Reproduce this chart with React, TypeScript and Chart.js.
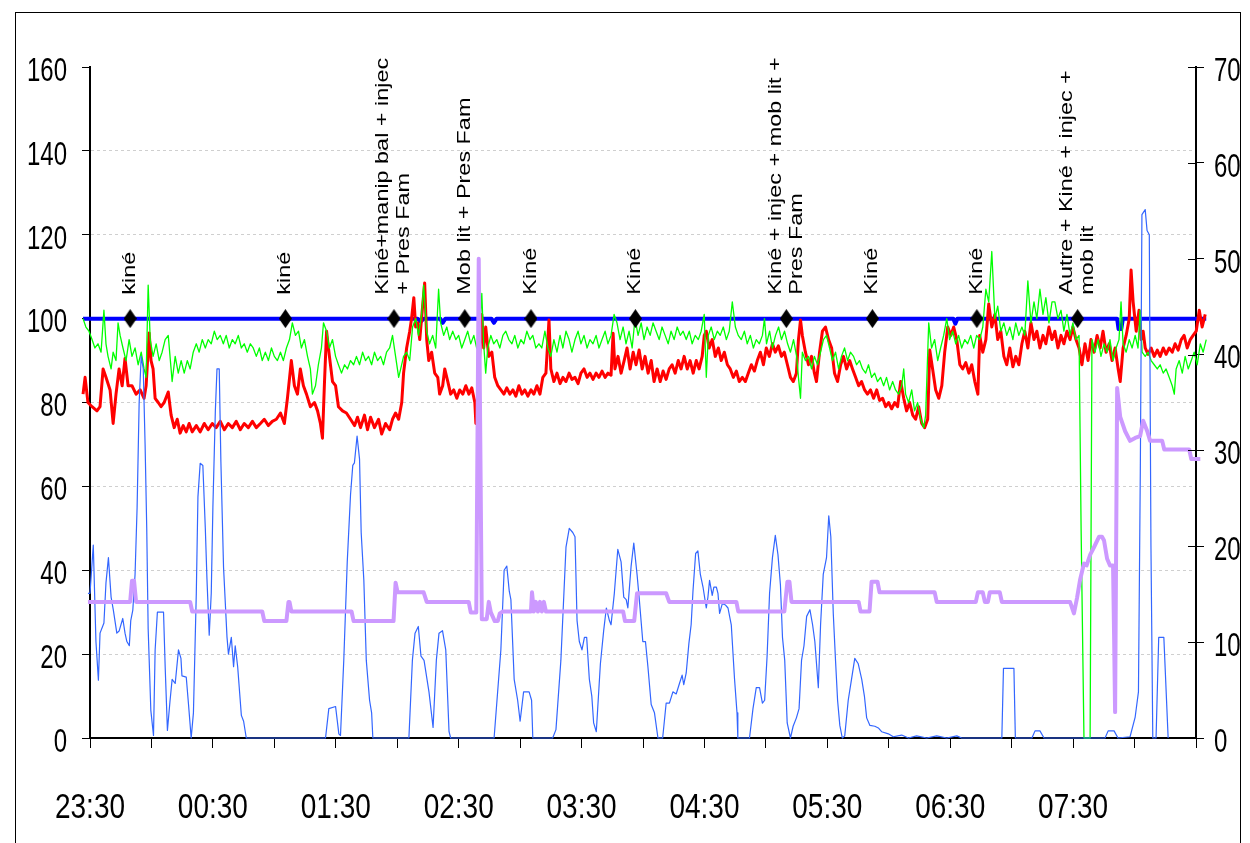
import React, { useEffect, useRef } from 'react';
import { Chart, registerables } from 'chart.js';

Chart.register(...registerables);

const FONT = '"Liberation Sans", Arial, sans-serif';

// time axis: minutes since 23:30
const X_LABEL_MIN = [0, 60, 120, 180, 240, 300, 360, 420, 480];
const X_LABELS = ['23:30', '00:30', '01:30', '02:30', '03:30', '04:30', '05:30', '06:30', '07:30'];
const LEFT_TICKS = [0, 20, 40, 60, 80, 100, 120, 140, 160];
const RIGHT_TICKS = [0, 10, 20, 30, 40, 50, 60, 70];

// [minute, value]
const RED: number[][] = [[-3.4,82],[-2.4,86],[-1,80],[1,79],[3.4,78],[4.9,79],[6.4,88],[7.8,86],[9.8,83],[11.3,75],[12.7,82],[14.2,88],[15.7,84],[17.1,90.5],[18.6,84],[20.5,84],[22.5,82],[24.5,83],[26.4,81],[27.4,84],[28.9,96.6],[29.8,90],[30.8,88],[31.8,81],[33.3,80],[34.7,79],[36.2,80],[38.2,82.5],[39.6,77],[41.1,74],[42.6,76],[44,72.7],[45.5,74.5],[47,73],[48.4,75],[49.9,73],[51.9,74.5],[53.8,73],[55.8,75],[57.7,73.5],[59.7,75],[61.6,74],[63.6,75.5],[65.6,73.5],[67.5,75],[69.5,74],[71.4,75.5],[73.4,73.5],[75.3,75],[77.3,74],[79.3,75.5],[81.2,74],[83.2,75],[85.1,76],[87.1,74.5],[89,75.5],[91,76],[93,77.5],[94.9,75],[96.4,81],[98.3,90],[99.8,84],[101.3,82],[102.7,88],[104.2,84],[105.7,82],[107.6,79],[109.6,80],[111.1,78],[112.5,75],[113.5,71.5],[114.5,85],[115.5,97],[116.9,91],[118.4,85],[119.9,84],[121.3,79],[123.3,78],[125.2,77.5],[127.2,76],[129.2,74.5],[130.6,76.5],[132.1,74],[134,77],[135.5,73.5],[137,76.5],[138.9,74],[140.9,76],[142.4,72.5],[144.3,75],[146.3,73.5],[147.7,76],[149.2,77.5],[150.7,76],[152.2,80],[153.1,87],[154.6,93],[156.1,97],[157,100],[158.1,105],[159,98],[160,99],[161,95],[162.4,103],[163.4,108.5],[164.4,95],[165.4,90],[166.8,92],[168.3,87],[169.8,86],[170.7,82],[172.2,84],[173.2,88],[174.7,85],[176.1,82],[177.6,83],[179.1,81],[180.5,83],[182,82],[183.5,84],[185,82],[186.4,83.5],[187.9,80],[188.4,75],[189.3,82],[191.3,101],[192.2,93],[193.2,98],[194.7,91],[196.2,92],[197.6,86],[199.1,84],[200.6,83],[202.1,82],[203.5,83.5],[205,82],[206.5,83],[207.9,81.5],[209.4,84],[210.9,82],[212.3,83],[213.8,81.5],[215.3,83],[216.7,82],[218.2,84],[219.7,82],[221.1,86],[222.6,87],[224.1,99.7],[225,88],[226.5,85],[228,87],[229.5,84.5],[230.9,86],[232.4,85],[233.9,87],[235.3,85.5],[236.8,86],[238.3,84.5],[239.7,87],[241.2,88],[242.7,86],[244.1,87],[245.6,85.5],[247.1,87],[248.5,86],[250,87.5],[251.5,86],[252.9,87],[254.4,86.5],[255.4,96.5],[256.3,88],[257.8,91],[259.3,87],[260.8,90],[262.2,93],[263.7,88],[265.2,92],[266.6,89],[268.1,92.5],[269.6,88],[271,91],[272.5,87],[274,90],[275.4,85],[276.9,88],[278.4,85],[279.8,87.5],[281.3,85.5],[282.8,88],[284.2,89],[285.7,87],[287.2,90],[288.6,88],[290.1,91],[291.6,88],[293,90],[294.5,87],[296,90],[297.4,88],[298.9,91],[299.9,96],[300.9,97],[302.3,93],[303.8,95],[305.3,91],[306.8,93],[308.2,90],[309.7,92],[311.2,89],[312.6,88],[314.1,86],[315.6,87.5],[317,85],[318.5,86],[320,85],[321.4,87],[322.9,89],[324.4,87.5],[325.8,90],[327.3,92],[328.8,89],[330.2,93],[331.7,91],[333.2,94],[334.6,92],[336.1,93.5],[337.6,91],[339,92],[340.5,89],[342,86],[343.4,85],[344.9,87],[345.9,95],[346.9,99.7],[347.8,96],[349.3,92],[350.8,89],[352.3,91],[353.7,87],[354.7,85],[356.2,92],[357.6,97],[359.1,98],[360.6,95],[362.1,93],[363.5,87],[365,85],[366.5,89],[367.9,91],[369.4,88],[370.9,90],[372.3,88],[373.8,86],[375.3,84],[376.7,85],[378.2,83],[379.6,82],[381.1,83],[382.6,81],[384.1,83],[385.5,80.5],[387,81],[388.5,79],[389.9,80],[391.4,78.5],[392.9,80],[394.3,79],[395.8,85],[397.3,81],[398.7,78],[400.2,80],[401.7,77],[403.1,76],[404.6,79],[406.1,75],[407.5,74],[409,76],[410,92.5],[411.4,88],[412.9,83],[414.4,81],[415.9,84],[417.3,92],[418.8,98],[420.3,96],[421.7,98],[423.2,95],[424.7,89],[426.1,88],[427.6,89.5],[429.1,87],[430.5,89],[432,85],[433.5,82],[434.4,96],[435.9,92],[437.4,95],[438.8,103.5],[440.3,98],[441.8,101],[443.2,95],[444.7,97],[446.2,91],[447.6,89],[449.1,93],[450.6,88.5],[452,91],[453.5,89],[455,94],[456.4,97],[457.9,93],[459.4,99],[460.9,95],[462.3,97],[463.8,93],[465.3,96],[466.7,94],[468.2,98],[469.7,95],[471.1,97],[472.6,93],[474.1,96],[475.5,94],[477,97],[478.5,95],[479.9,98],[481.4,95],[482.9,93],[484.3,89],[485.8,94],[487.3,90],[488.7,95],[490.2,92],[491.7,96],[493.2,93],[494.6,97],[496.1,92],[497.6,94],[499,90],[500.5,93],[502,88],[503,85],[504.4,93],[505.9,96],[507.4,100],[508.3,111.6],[509.3,104],[510.8,97],[512.2,102],[513.2,95],[514.2,97],[515.2,93],[516.6,91.5],[518.1,93],[519.6,91],[521.1,92.5],[522.5,91],[524,93],[525.4,91.5],[526.9,93],[528.4,92],[529.8,94],[531.3,92.5],[532.8,95],[534.2,96],[535.7,93],[537.2,95],[538.6,96],[540.1,97],[541.6,102],[543,98],[544.5,101]];

const GREEN: number[][] = [[-3.4,100],[-2,98],[-0.5,97],[1,95],[2.4,93],[3.9,94],[5.4,92],[6.8,102],[7.8,94],[8.8,91],[10.3,88],[11.3,92],[12.7,90],[13.7,99],[14.7,96],[16.1,93],[17.6,90],[19.1,95],[20.5,91],[22,93],[23.5,89],[25,92],[26.4,88],[27.4,86],[28.4,108],[29.4,95],[30.8,91],[32.3,94],[33.8,90],[35.2,92],[36.7,95],[38.2,96],[39.6,88],[40.1,85],[41.6,91],[43.1,87],[44.5,90],[46,87],[47.5,90],[48.9,88],[50.4,92],[51.9,94],[53.3,92],[54.8,95],[56.3,93],[57.7,95],[59.2,94],[60.7,97],[62.1,95],[63.6,96],[65.1,94],[66.5,96],[68,93],[69.5,95],[70.9,94],[72.4,96],[73.9,93],[75.3,94],[76.8,92],[78.3,94],[79.7,93],[81.2,91],[82.7,93],[84.1,90],[85.6,92],[87.1,90],[88.6,93],[90,91],[91.5,90],[93,92],[94.4,90],[95.9,93],[97.4,95],[98.8,99],[100.3,96],[101.8,97],[103.2,93],[104.7,95],[106.2,91],[107.6,88],[108.6,82],[110.1,84],[111.5,89],[113,93],[114,99],[115.5,97],[116.9,93],[118.4,95],[119.9,91],[121.3,89],[122.8,87],[124.3,89],[125.7,88],[127.2,90],[128.7,89],[130.1,91],[131.6,89],[133.1,92],[134.5,90],[136,91],[137.5,89],[138.9,92],[140.4,90],[141.9,91],[143.3,89],[144.8,92],[146.3,93],[147.7,96],[149.2,91],[150.7,86],[151.7,88],[153.1,91],[154.6,92],[156.1,90],[157.5,98],[159,100],[160.4,96],[161.9,101],[162.9,108],[164.4,97],[165.8,94],[167.3,96],[168.8,93],[170.2,107],[171.2,99],[172.7,96],[174.2,98],[175.6,95],[177.1,97],[178.6,95],[180,96],[181.5,93],[183,95],[184.4,97],[185.9,94],[187.4,96],[188.8,93],[190.3,97],[191.3,106],[192.2,94],[193.2,87],[194.2,93],[195.7,96],[197.1,94],[198.6,95],[200.1,93],[201.6,96],[203,97],[204.5,95],[206,94],[207.4,96],[208.9,93],[210.4,95],[211.8,94],[213.3,97],[214.8,95],[216.2,96],[217.7,93],[219.2,94],[220.6,93],[222.1,97],[223.6,93],[225,91],[226.5,95],[228,92],[229.5,96],[230.9,93],[232.4,97],[233.9,95],[235.3,92],[236.8,95],[238.3,97],[239.7,94],[241.2,96],[242.7,93],[244.1,95],[245.6,94],[247.1,96],[248.5,93],[250,95],[251.5,97],[252.9,94],[254.4,96],[255.9,101],[257.3,99],[258.8,95],[260.3,98],[261.7,94],[263.2,97],[264.7,93],[266.1,100],[267.6,96],[269.1,99],[270.5,95],[272,98],[273.5,96],[274.9,99],[276.4,97],[277.9,95],[279.3,98],[280.8,96],[282.3,94],[283.7,97],[285.2,95],[286.7,98],[288.2,96],[289.6,97],[291.1,95],[292.6,97],[294,94],[295.5,96],[297,95],[298.4,97],[299.9,101],[300.9,86],[301.9,96],[303.3,98],[304.8,95],[306.3,97],[307.7,96],[309.2,98],[310.7,95],[312.1,97],[313.6,104],[315.1,98],[316.5,96],[318,95],[319.5,97],[320.9,94],[322.4,96],[323.9,93],[325.3,95],[326.8,94],[328.3,96],[329.3,100],[330.3,94],[331.8,97],[333.2,93],[334.7,96],[336.2,98],[337.6,95],[339.1,97],[340.6,94],[342,92],[343.5,95],[345,91],[345.9,86],[346.9,81],[347.8,92],[349.3,90],[350.8,91],[352.3,88],[353.7,91],[355.2,89],[356.7,92],[358.1,95],[359.6,96],[361.1,93],[362.5,90],[364,92],[365.5,88],[366.9,91],[368.4,93],[369.9,90],[371.3,92],[372.8,91],[374.3,89],[375.7,90],[377.2,88],[378.7,87],[380.1,89],[381.6,86],[383.1,87],[384.5,85],[386,86],[387.5,84],[388.9,86],[390.4,83],[391.9,85],[393.3,83],[394.8,82],[396.3,84],[397.3,88],[398.2,82],[399.7,80],[401.2,83],[402.6,78],[404.1,80],[405.6,76],[407.1,74],[408,77],[409.5,99],[410.9,93],[412.4,95],[413.9,90],[415.3,93],[416.8,96],[418.3,100],[419.7,95],[421.2,97],[422.7,94],[424.1,96],[425.6,93],[427.1,95],[428.5,94],[430,96],[431.5,93],[432.9,96],[434.4,95],[435.9,98],[437.4,107],[438.8,104],[440.3,116],[441.8,100],[443.2,103],[444.7,97],[446.2,99],[447.6,96],[449.1,98],[450.6,95],[452,99],[453.5,96],[455,98],[456.4,96],[457.9,109],[459.4,99],[460.9,104],[462.3,100],[463.8,107],[465.3,101],[466.7,105],[468.2,99],[469.7,104],[471.1,104],[472.6,100],[474.1,102],[475.5,97],[477,101],[478.5,96],[479.9,99],[481.4,95],[482.9,96],[483.9,50],[485.3,0],[486.8,0],[488.3,0],[489.2,95],[490.7,92],[492.2,95],[493.6,91],[495.1,94],[496.6,92],[498,95],[499.5,90],[501,93],[502.4,95],[503.4,104],[504.4,94],[505.9,92],[507.4,95],[508.8,93],[510.3,96],[511.7,93],[512.7,102],[513.7,92],[515.2,91],[516.6,92],[518.1,90],[519.6,89],[521.1,88],[522.5,89],[524,87],[525.4,88],[526.9,86],[528.4,84],[529.4,82],[530.3,88],[531.8,90],[533.3,87],[534.7,91],[536.2,88],[537.7,90],[539.1,92],[540.6,89],[542.1,94],[543.5,92],[545,95]];

const BLUE_FLAT: number[][] = [[-3.4,100],[160,100],[161.5,99.3],[163,100],[171,100],[172.2,99],[173.5,100],[196,100],[197.2,99],[198.5,100],[421.5,100],[422.5,98.8],[423.5,100],[501.5,100],[502.2,97.5],[503.5,97.5],[504.3,100],[545,100]];

const BLUE_THIN: number[][] = [[-1,34.5],[0,34.5],[1.6,46],[2.9,23],[4.1,13.8],[4.9,25],[6.8,27.4],[7.8,37],[9,43],[10.3,33.6],[11.4,30.5],[13.1,25],[14.2,25.5],[16,28.5],[17.1,25],[18,23],[19.2,22],[19.9,28],[20.9,30.5],[22,39],[23,55],[24,80],[25,91],[26,88],[26.9,70],[27.7,50],[28.4,26],[29.7,6.6],[31,0.6],[31.8,21],[32.9,30],[35.9,30],[36.7,17],[37.8,1.8],[39.1,9],[40.1,14],[41.6,13],[43.2,21],[44.4,19],[44.9,14.8],[47,14.5],[48.1,8],[49.4,0],[50.5,6],[51.9,34.5],[52.7,57.5],[53.8,65.5],[55.1,65],[56.3,50],[57.1,38],[58.2,24.5],[59.2,34.5],[60,55],[61.2,78],[62,88],[63.1,88],[63.9,66],[65.2,40.7],[66.9,24],[67.6,20],[69,24],[70.1,17],[70.9,22],[72.1,17],[73.9,5.4],[75,4],[76.3,0],[115,0],[116.6,7],[119.9,7.5],[121.5,1],[122.3,0.6],[123.9,18.5],[125.6,42],[127.2,58],[128.3,65],[129.1,65.6],[130.4,72],[131.6,66.5],[132.4,49],[133.7,37.6],[134.9,18.5],[136.5,9],[137.5,6],[138.1,0],[155.7,0],[157.4,18.5],[158.7,25],[160.3,26.6],[161.6,19.5],[163.1,18.5],[165.5,11],[167.5,2.5],[169.1,18.5],[170.4,25],[172.1,25.6],[173.7,21],[175.3,1.5],[176.1,0],[197.3,0],[200.6,21],[202.2,40],[203.5,41],[204.7,35],[205.5,33],[207.1,14],[208.8,9],[210,4],[211.7,11],[214.4,11],[215.6,9],[216.2,0],[225.9,0],[227.5,2],[229.9,18.5],[232.4,45.5],[234,50],[235.7,49],[236.8,48],[237.8,28],[238.9,23],[240.2,21],[241.4,24],[242.5,24],[243.8,14],[245,10],[245.9,3.6],[247.2,1.5],[249.2,17.7],[250.8,25.6],[252.1,31],[253.6,28],[254.4,27],[256,34.5],[257.7,45],[259.3,42],[260.6,33.6],[261.8,33],[262.6,31],[264.2,41],[265.5,46.5],[267.1,39],[268.2,33],[269.9,23],[271.2,23],[272.4,17],[274,8],[275.6,6],[277.3,0],[279.6,0],[281.3,8.3],[282.9,8.3],[284.6,11],[286.2,10.5],[287.8,13],[289.1,15],[289.9,12.7],[291.1,15.5],[292.4,22.5],[293.5,27],[294.4,35],[295.7,44],[296.8,44.6],[298,39],[299.3,36],[300.9,31],[301.7,33.6],[302.5,37.6],[303.8,34],[304.6,36],[305.8,36],[306.6,34.5],[307.4,29.7],[308.7,32],[310.3,31.7],[311.5,31],[313.1,27],[314.7,14],[315.9,6],[316.3,0],[322,0],[323.7,7],[325.3,12],[326.9,12],[328.3,8.3],[329.4,9],[330.6,19.6],[331.8,34.5],[333.2,43],[334.6,48.3],[335.9,43.7],[337.1,36.5],[338.1,24],[339.2,18.5],[340.4,3.6],[342,0],[343.3,2.8],[344.9,4.8],[346.2,7],[347.4,18.5],[348.6,22],[349.9,29],[351.5,30.6],[352.8,27],[353.9,23],[355.6,12],[356.7,27],[358,39],[359.6,43],[360.7,53],[361.7,48],[362.9,29.7],[364,18.5],[365,9],[366.1,3],[367.3,0],[368.5,0.5],[370.2,9],[371.8,14],[373.4,19],[375.1,17.7],[376.8,14],[378.1,10],[379.2,4.8],[380.8,3],[383.2,2.8],[384.9,2.4],[386.5,1.5],[389.8,1],[392.2,0.3],[396.3,0.7],[399.6,0],[403.6,0.5],[408.5,0],[413.4,0.5],[418.3,0],[423.2,0.5],[425.6,0],[445.2,0],[446,16.6],[451.1,16.6],[451.8,0],[459.9,0],[461.4,1.7],[463.8,1.7],[465.8,0],[495.6,0],[497.1,1.7],[500,1.7],[501.9,0],[507.8,0.3],[510.3,5],[511.9,11],[512.8,63],[513.6,124.8],[515.2,126],[516.1,121],[517.2,120],[518,46],[518.9,0],[520.5,0],[521.8,24],[524.3,24],[526.4,0]];

// right axis
const PURPLE: number[][] = [[-1,14.2],[19.6,14.2],[20.5,16.4],[21.5,16.4],[22.5,14.2],[48.9,14.2],[49.9,13.2],[84.1,13.2],[85.1,12.2],[95.9,12.2],[96.9,14.2],[97.4,14.2],[98.3,13.2],[127.7,13.2],[128.7,12.2],[148.2,12.2],[149.2,16.2],[150.2,15.2],[162.9,15.2],[164.4,14.2],[184.9,14.2],[185.9,13.1],[188.6,13.1],[189.8,50],[191.3,12.4],[193.7,12.4],[194.7,14.2],[195.7,13.1],[197.6,12.2],[199.1,12.2],[200.1,13],[201.6,13.2],[215.3,13.2],[215.8,15.2],[216.7,13.2],[217.7,14.2],[218.7,13.2],[219.7,14.2],[220.6,13.2],[221.6,14.2],[222.6,13.2],[260.3,13.2],[261.2,12.2],[265.7,12.2],[267.1,15.1],[281.3,15.1],[282.8,14.2],[315.6,14.2],[316.5,13.2],[339,13.2],[340.5,16.3],[341.5,16.3],[342.5,14.2],[375.3,14.2],[376.2,13.2],[380.6,13.2],[381.6,16.3],[384.5,16.3],[385.5,15.2],[412.4,15.2],[413.4,14.2],[432.5,14.2],[433.5,15.2],[435.9,15.2],[436.9,14.2],[438.4,14.2],[439.3,15.2],[444.2,15.2],[445.2,14.2],[478.5,14.2],[480.4,13],[481.9,14.6],[483.4,16.5],[485.3,18.2],[486.6,18],[488.3,19.1],[490.2,19.9],[492.7,21],[494.1,21],[495.1,20.6],[496.6,18.7],[498,18],[499.5,18],[500,10.8],[500.5,2.7],[501.5,36.5],[503,33.5],[505.4,32],[507.8,31],[510.3,31.3],[512.7,31.5],[514.2,33.1],[516.2,32],[517.6,31],[523.5,31],[524.5,30.1],[536.7,30.1],[537.7,29.1],[542.1,29.1]];

const EVENT_MIN = [19.6, 95.4, 148.4, 183, 215.3, 266.3, 340, 382, 433, 482.2];
const EVENT_VALUE = 100;
const EVENT_TEXT: string[][] = [
  ['kiné'],
  ['kiné'],
  ['Kiné+manip bal + injec', '+ Pres Fam'],
  ['Mob lit + Pres Fam'],
  ['Kiné'],
  ['Kiné'],
  ['Kiné + injec + mob lit +', 'Pres Fam'],
  ['Kiné'],
  ['Kiné'],
  ['Autre + Kiné + injec +', 'mob lit'],
];

const toXY = (arr: number[][]) => arr.map(([x, y]) => ({ x, y }));

function stretchedText(ctx: CanvasRenderingContext2D, text: string, px: number, py: number, size: number, sy: number, align: CanvasTextAlign) {
  ctx.save();
  ctx.font = `${size}px ${FONT}`;
  ctx.textAlign = align;
  ctx.textBaseline = 'alphabetic';
  ctx.translate(px, py);
  ctx.scale(1, sy);
  ctx.fillText(text, 0, 0.358 * size);
  ctx.restore();
}

const textPlugin = {
  id: 'textPlugin',
  afterDraw(chart: any) {
    const { ctx, chartArea } = chart;
    const xs = chart.scales.x;
    const yl = chart.scales.y;
    const yr = chart.scales.y2;
    ctx.save();
    ctx.fillStyle = '#000';
    ctx.strokeStyle = '#000';
    ctx.lineWidth = 1;
    RIGHT_TICKS.forEach((v) => {
      const py = Math.round(yr.getPixelForValue(v)) + 0.5;
      ctx.beginPath();
      ctx.moveTo(chartArea.right - 8, py);
      ctx.lineTo(chartArea.right, py);
      ctx.stroke();
    });
    LEFT_TICKS.forEach((v) => {
      stretchedText(ctx, String(v), 67, yl.getPixelForValue(v) + 2, 24, 1.38, 'right');
    });
    RIGHT_TICKS.forEach((v) => {
      stretchedText(ctx, String(v), 1214, yr.getPixelForValue(v) + 2, 24, 1.38, 'left');
    });
    X_LABEL_MIN.forEach((m, i) => {
      stretchedText(ctx, X_LABELS[i], xs.getPixelForValue(m), 805, 28, 1.27, 'center');
    });
    const meta = chart.getDatasetMeta(0);
    meta.data.forEach((pt: any, i: number) => {
      const lines = EVENT_TEXT[i] || [];
      const lh = 21;
      const x0 = pt.x - ((lines.length - 1) * lh) / 2;
      lines.forEach((line, j) => {
        ctx.save();
        ctx.translate(x0 + j * lh, pt.y - 24);
        ctx.rotate(-Math.PI / 2);
        ctx.scale(1.3, 1);
        ctx.font = `18px ${FONT}`;
        ctx.textAlign = 'left';
        ctx.textBaseline = 'middle';
        ctx.fillText(line, 0, 0);
        ctx.restore();
      });
    });
    ctx.restore();
  },
};

export default function App() {
  const ref = useRef<HTMLCanvasElement>(null);
  useEffect(() => {
    if (!ref.current) return;
    const dia = document.createElement('canvas');
    dia.width = 13;
    dia.height = 19;
    const dc = dia.getContext('2d')!;
    dc.fillStyle = '#000';
    dc.beginPath();
    dc.moveTo(6.5, 0);
    dc.lineTo(13, 9.5);
    dc.lineTo(6.5, 19);
    dc.lineTo(0, 9.5);
    dc.closePath();
    dc.fill();

    const chart = new Chart(ref.current, {
      type: 'line',
      data: {
        datasets: [
          {
            label: 'events',
            data: EVENT_MIN.map((m) => ({ x: m, y: EVENT_VALUE })),
            yAxisID: 'y',
            showLine: false,
            pointStyle: dia as any,
            pointRadius: 7,
            order: 0,
          },
          {
            label: 'purple',
            data: toXY(PURPLE),
            yAxisID: 'y2',
            borderColor: '#CC99FF',
            borderWidth: 4,
            pointRadius: 0,
            clip: false as any,
            order: 1,
          },
          {
            label: 'thin blue',
            data: toXY(BLUE_THIN),
            yAxisID: 'y',
            borderColor: '#3366FF',
            borderWidth: 1.2,
            pointRadius: 0,
            clip: false as any,
            order: 2,
          },
          {
            label: 'green',
            data: toXY(GREEN),
            yAxisID: 'y',
            borderColor: '#00FF00',
            borderWidth: 1.3,
            pointRadius: 0,
            clip: false as any,
            order: 3,
          },
          {
            label: 'red',
            data: toXY(RED),
            yAxisID: 'y',
            borderColor: '#FF0000',
            borderWidth: 3,
            pointRadius: 0,
            clip: false as any,
            order: 4,
          },
          {
            label: 'blue',
            data: toXY(BLUE_FLAT),
            yAxisID: 'y',
            borderColor: '#0000FF',
            borderWidth: 4,
            pointRadius: 0,
            clip: false as any,
            order: 5,
          },
        ],
      },
      options: {
        responsive: false,
        animation: false,
        events: [],
        layout: { padding: { top: 67, left: 0, right: 0, bottom: 0 } },
        plugins: { legend: { display: false }, tooltip: { enabled: false } },
        elements: { line: { tension: 0, borderJoinStyle: 'round' } },
        scales: {
          x: {
            type: 'linear',
            afterDataLimits: (s: any) => {
              s.min = 0;
              s.max = 540;
            },
            ticks: { display: false, stepSize: 30 },
            grid: { drawOnChartArea: false, drawTicks: true, tickLength: 10, tickColor: '#000', tickWidth: 1 },
            border: { color: '#000', width: 2 },
            afterFit: (s: any) => {
              s.height = 105;
            },
          },
          y: {
            position: 'left',
            min: 0,
            max: 160,
            ticks: { display: false, stepSize: 20 },
            grid: {
              color: (c: any) => (c.tick && (c.tick.value === 0 || c.tick.value === 160) ? 'rgba(0,0,0,0)' : '#cfcfcf'),
              lineWidth: 1,
              tickColor: '#000',
              tickLength: 8,
            },
            border: { color: '#000', width: 2, dash: [3, 3] },
            afterFit: (s: any) => {
              s.width = 90;
            },
          },
          y2: {
            position: 'right',
            min: 0,
            max: 70,
            ticks: { display: false, stepSize: 10 },
            grid: { drawOnChartArea: false, tickColor: '#000', tickLength: 8 },
            border: { color: '#000', width: 2 },
            afterFit: (s: any) => {
              s.width = 54;
            },
          },
        },
      } as any,
      plugins: [textPlugin],
    });
    return () => chart.destroy();
  }, []);

  return (
    <>
      <div
        style={{
          position: 'fixed',
          left: 15,
          top: 12,
          width: 1226,
          height: 831,
          boxSizing: 'border-box',
          borderTop: '1px solid #000',
          borderLeft: '1px solid #000',
          borderRight: '1px solid #000',
        }}
      />
      <canvas
        ref={ref}
        width={1250}
        height={843}
        style={{ position: 'fixed', left: 0, top: 0, width: 1250, height: 843 }}
      />
    </>
  );
}
